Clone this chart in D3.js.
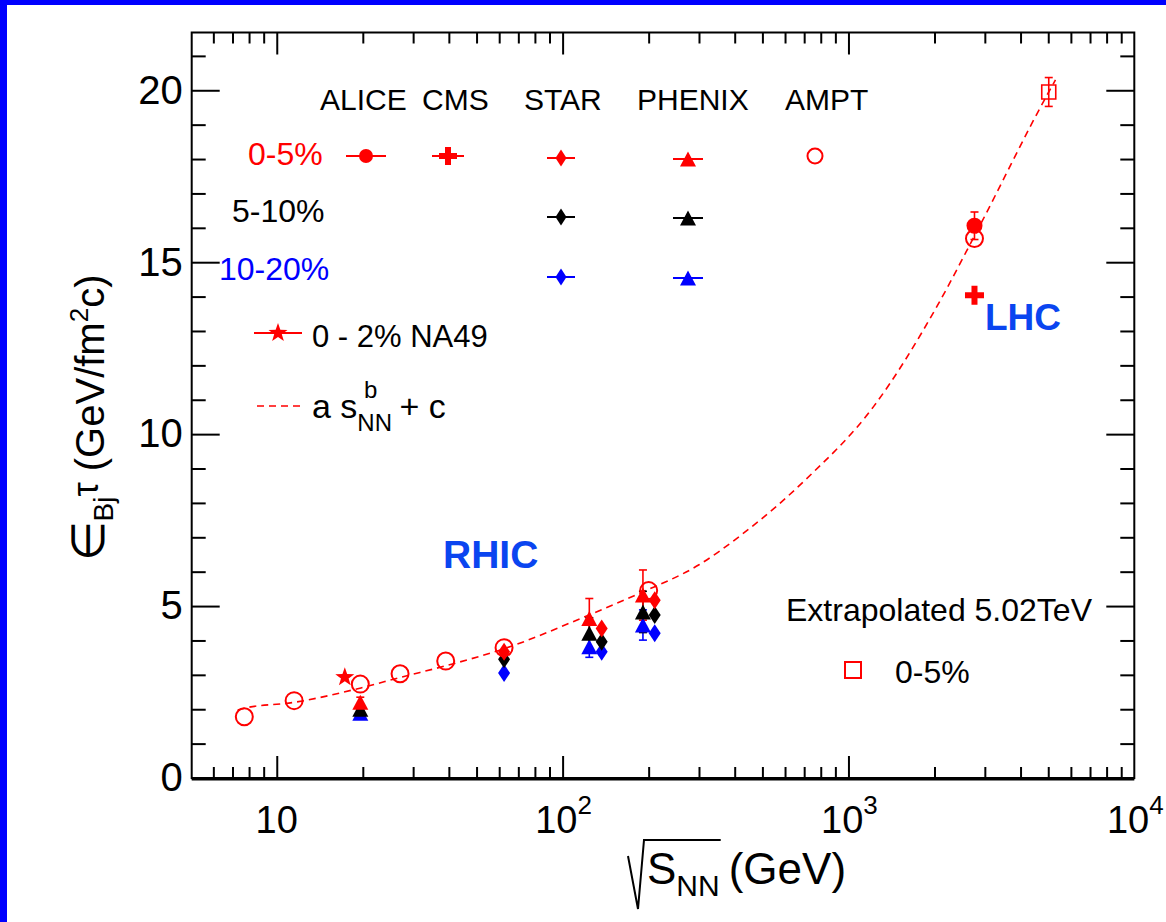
<!DOCTYPE html>
<html><head><meta charset="utf-8">
<script src="https://cdn.jsdelivr.net/npm/d3@7"></script>
<style>
body{margin:0;background:#fff}
svg text{font-family:"Liberation Sans",Arial,Helvetica,sans-serif}
</style>
</head><body>
<svg id="c" width="1166" height="922"></svg>
<script>
// ---------------- data ----------------
const aliceX = [2760], aliceY = [16.06], aliceErr = [0.4];
const cmsX = [2760], cmsY = [14.04];
const starX = [62.4, 137, 210];
const starY0005 = [3.67, 4.35, 5.17];
const starY0510 = [3.45, 3.96, 4.74];
const starY1020 = [3.05, 3.67, 4.21];
const phenixX = [19.6, 124, 191];
const phenixY0005 = [2.2, 4.64, 5.32], phenixE0005 = [0.15, 0.58, 0.73];
const phenixY0510 = [2.0, 4.21, 4.83], phenixE0510 = [0.12, 0.45, 0.6];
const phenixY1020 = [1.88, 3.82, 4.45], phenixE1020 = [0.1, 0.31, 0.44];
const amptX = [7.7, 11.5, 19.6, 27, 39, 62.4, 200, 2760];
const amptY = [1.78, 2.25, 2.73, 3.03, 3.40, 3.79, 5.45, 15.69];
const na49X = [17.3], na49Y = [2.93];
const extrapX = [5020], extrapY = [19.95], extrapErr = [0.42];
const fitX = [7.3, 7.7, 11.5, 19.7, 27.2, 39.3, 63, 122, 187, 300, 419, 713, 1224, 2051, 2790, 5020, 5300];
const fitY = [1.98, 2.03, 2.2, 2.62, 2.93, 3.27, 3.77, 4.72, 5.38, 6.2, 7.05, 8.7, 10.8, 13.75, 15.84, 19.95, 20.3];
const xMajorTicks = [10, 100, 1000, 10000];
const xMinorTicks = [6,7,8,9,20,30,40,50,60,70,80,90,200,300,400,500,600,700,800,900,2000,3000,4000,5000,6000,7000,8000,9000];
const yMajorTicks = [0, 5, 10, 15, 20];
const yMinorTicks = [1,2,3,4,6,7,8,9,11,12,13,14,16,17,18,19,21];
const xTickExp = ["", "2", "3", "4"];

// ---------------- setup ----------------
const RED = "#ff0000", BLUE = "#0000ff", BLACK = "#000000", TXTBLUE = "#0a45f0";
const svg = d3.select("#c");
const L = 191.7, R = 1134.3, T = 32.5, B = 778;
const x = d3.scaleLog().domain([5.04, 10000]).range([L, R]);
const y = d3.scaleLinear().domain([0, 21.68]).range([B, T]);

// blue border
svg.append("rect").attr("x",0).attr("y",0).attr("width",7).attr("height",922).attr("fill","#0000ff");
svg.append("rect").attr("x",0).attr("y",0).attr("width",1166).attr("height",5).attr("fill","#0000ff");

// axes
function ax(gen, tr, vals, size){
  const g = svg.append("g").attr("transform", tr)
    .call(gen.tickValues(vals).tickSize(size).tickFormat(""));
  g.select(".domain").remove();
  g.selectAll("line").attr("stroke","#000").attr("stroke-width",2);
  return g;
}
ax(d3.axisBottom(x), `translate(0,${B})`, xMinorTicks, -11);
ax(d3.axisBottom(x), `translate(0,${B})`, xMajorTicks.slice(0,3), -22);
ax(d3.axisTop(x), `translate(0,${T})`, xMinorTicks, -11);
ax(d3.axisTop(x), `translate(0,${T})`, xMajorTicks.slice(0,3), -22);
ax(d3.axisRight(y), `translate(${R},0)`, yMinorTicks, -14);
ax(d3.axisRight(y), `translate(${R},0)`, yMajorTicks, -28);
ax(d3.axisLeft(y), `translate(${L},0)`, yMinorTicks, -14);
const gl = svg.append("g").attr("transform", `translate(${L},0)`)
  .call(d3.axisLeft(y).tickValues(yMajorTicks).tickSize(-28).tickPadding(9));
gl.select(".domain").remove();
gl.selectAll("line").attr("stroke","#000").attr("stroke-width",2);
gl.selectAll("text").attr("font-size",40).attr("font-family","Liberation Sans, Arial, sans-serif").attr("fill","#000");

// frame
svg.append("rect").attr("x",L).attr("y",T).attr("width",R-L).attr("height",B-T)
  .attr("fill","none").attr("stroke","#000").attr("stroke-width",2);
svg.append("line").attr("x1",L).attr("x2",R).attr("y1",B+1).attr("y2",B+1).attr("stroke","#000").attr("stroke-width",3);

// x tick labels
xMajorTicks.forEach((v,i)=>{
  const t = svg.append("text").attr("x", x(v)+(i?1:0)).attr("y", 833).attr("text-anchor","middle")
    .attr("font-size",38).text("10");
  if (xTickExp[i]) t.append("tspan").attr("font-size",26).attr("dy",-19).text(xTickExp[i]);
});

// axis titles
const yt = svg.append("text").attr("transform","translate(104,418) rotate(-90)")
  .attr("text-anchor","middle").attr("font-size",40);
yt.append("tspan").attr("font-size",46).text("\u2208");
yt.append("tspan").attr("font-size",28).attr("dy",9).text("Bj");
yt.append("tspan").attr("font-size",36).attr("dy",-15).text("\u03c4");
yt.append("tspan").attr("dy",6).text(" (GeV/fm");
yt.append("tspan").attr("font-size",26).attr("dy",-16).text("2");
yt.append("tspan").attr("dy",16).text("c)");

const xt = svg.append("text").attr("x",647).attr("y",884).attr("font-size",44);
xt.append("tspan").text("S");
xt.append("tspan").attr("font-size",30).attr("dy",12).text("NN");
const xtw = xt.node().getBBox();
svg.append("path").attr("d",`M628,856 L638,909 L644,840 L${xtw.x+xtw.width+1},840`)
  .attr("fill","none").attr("stroke","#000").attr("stroke-width",2);
svg.append("text").attr("x",xtw.x+xtw.width+9).attr("y",884).attr("font-size",44).text("(GeV)");

// ---------------- marker shapes ----------------
const shapes = {
  tri: (w,h) => `M0,${-h/2}L${w/2},${h/2}L${-w/2},${h/2}Z`,
  dia: (w,h) => `M0,${-h/2}L${w/2},0L0,${h/2}L${-w/2},0Z`,
  cross: (s,t) => { const a=s/2,b=t/2; return `M${-b},${-a}H${b}V${-b}H${a}V${b}H${b}V${a}H${-b}V${b}H${-a}V${-b}H${-b}Z`; },
  star: (ro,ri) => { let p=""; for(let k=0;k<10;k++){const r=k%2?ri:ro, a=-Math.PI/2+k*Math.PI/5; p+=(k?"L":"M")+(r*Math.cos(a)).toFixed(2)+","+(r*Math.sin(a)).toFixed(2);} return p+"Z"; },
  sq: s => `M${-s/2},${-s/2}H${s/2}V${s/2}H${-s/2}Z`
};
function circ(r){ return `M${r},0A${r},${r} 0 1,1 ${-r},0A${r},${r} 0 1,1 ${r},0Z`; }

function errBars(xs, ys, es, color){
  const g = svg.append("g").attr("stroke",color).attr("stroke-width",1.6);
  xs.forEach((xv,i)=>{
    const cx=x(xv), y1=y(ys[i]-es[i]), y2=y(ys[i]+es[i]);
    g.append("line").attr("x1",cx).attr("x2",cx).attr("y1",y1).attr("y2",y2);
    g.append("line").attr("x1",cx-4).attr("x2",cx+4).attr("y1",y1).attr("y2",y1);
    g.append("line").attr("x1",cx-4).attr("x2",cx+4).attr("y1",y2).attr("y2",y2);
  });
}
function markers(xs, ys, d, color, fill, sw){
  svg.append("g").selectAll("path").data(xs).join("path")
    .attr("transform",(xv,i)=>`translate(${x(xv)},${y(ys[i])})`)
    .attr("d", d).attr("fill", fill ? color : "none")
    .attr("stroke", fill ? "none" : color).attr("stroke-width", sw||2);
}

// ---------------- fit line ----------------
const fitData = fitX.map((v,i)=>[v, fitY[i]]);
svg.append("path").datum(fitData)
  .attr("d", d3.line().x(d=>x(d[0])).y(d=>y(d[1])).curve(d3.curveMonotoneX))
  .attr("fill","none").attr("stroke",RED).attr("stroke-width",1.6).attr("stroke-dasharray","7,5");

// ---------------- data markers ----------------
errBars(phenixX, phenixY1020, phenixE1020, BLUE);
errBars(phenixX, phenixY0510, phenixE0510, BLACK);
errBars(phenixX, phenixY0005, phenixE0005, RED);
markers(phenixX, phenixY1020, shapes.tri(16,15), BLUE, true);
markers(phenixX, phenixY0510, shapes.tri(16,15), BLACK, true);
markers(phenixX, phenixY0005, shapes.tri(16,15), RED, true);
markers(starX, starY1020, shapes.dia(12,18), BLUE, true);
markers(starX, starY0510, shapes.dia(12,18), BLACK, true);
markers(starX, starY0005, shapes.dia(12,18), RED, true);
markers(na49X, na49Y, shapes.star(10,4), RED, true);
markers(amptX, amptY, circ(8.5), RED, false, 2);
errBars(aliceX, aliceY, aliceErr, RED);
markers(aliceX, aliceY, circ(8), RED, true);
markers(cmsX, cmsY, shapes.cross(19,6), RED, true);
errBars(extrapX, extrapY, extrapErr, RED);
markers(extrapX, extrapY, shapes.sq(14), RED, false, 1.6);

// ---------------- legend ----------------
function txt(xp, yp, s, size, color, weight, fam){
  return svg.append("text").attr("x",xp).attr("y",yp).attr("font-size",size)
    .attr("fill",color||"#000").attr("font-weight",weight||"normal")
    .attr("font-family",fam||null).text(s);
}
function legMark(cx, cy, d, color, fill, lineHalf){
  if (lineHalf) svg.append("line").attr("x1",cx-lineHalf).attr("x2",cx+lineHalf).attr("y1",cy).attr("y2",cy)
    .attr("stroke",color).attr("stroke-width",2);
  svg.append("path").attr("transform",`translate(${cx},${cy})`).attr("d",d)
    .attr("fill",fill?color:"none").attr("stroke",fill?"none":color).attr("stroke-width",2);
}
[["ALICE",320],["CMS",422],["STAR",524],["PHENIX",637],["AMPT",785]].forEach(([s,xp])=>txt(xp,110,s,30));
txt(248,165,"0-5%",32,RED);
txt(232,222,"5-10%",32,BLACK);
txt(219,280,"10-20%",32,BLUE);
legMark(366,156,circ(7),RED,true,20);
legMark(448,156,shapes.cross(18,6),RED,true,16);
legMark(561,158,shapes.dia(11,17),RED,true,14);
legMark(688,159,shapes.tri(16,15),RED,true,15);
legMark(815,156,circ(7.5),RED,false,0);
legMark(561,217,shapes.dia(11,17),BLACK,true,14);
legMark(688,218,shapes.tri(16,15),BLACK,true,15);
legMark(561,277,shapes.dia(11,17),BLUE,true,14);
legMark(688,278,shapes.tri(16,15),BLUE,true,15);

legMark(278,333,shapes.star(10,4),RED,true,24);
txt(312,347,"0 - 2% NA49",31);
svg.append("line").attr("x1",257).attr("x2",302).attr("y1",406).attr("y2",406)
  .attr("stroke",RED).attr("stroke-width",1.6).attr("stroke-dasharray","7,5");
const ft = svg.append("text").attr("x",312).attr("y",418).attr("font-size",34);
ft.append("tspan").text("a s");
ft.append("tspan").attr("font-size",24).attr("dy",13).text("NN");
ft.append("tspan").attr("font-size",24).attr("dx",-28).attr("dy",-33).text("b");
ft.append("tspan").attr("dx",22).attr("dy",20).text("+ c");

txt(786,621,"Extrapolated 5.02TeV",32);
legMark(853,670,shapes.sq(16),RED,false,0);
txt(895,683,"0-5%",32);

txt(443,568,"RHIC",39,TXTBLUE,"bold","Open Sans, DejaVu Sans, sans-serif");
txt(985,330,"LHC",37,TXTBLUE,"bold","Open Sans, DejaVu Sans, sans-serif");
</script>
</body></html>
